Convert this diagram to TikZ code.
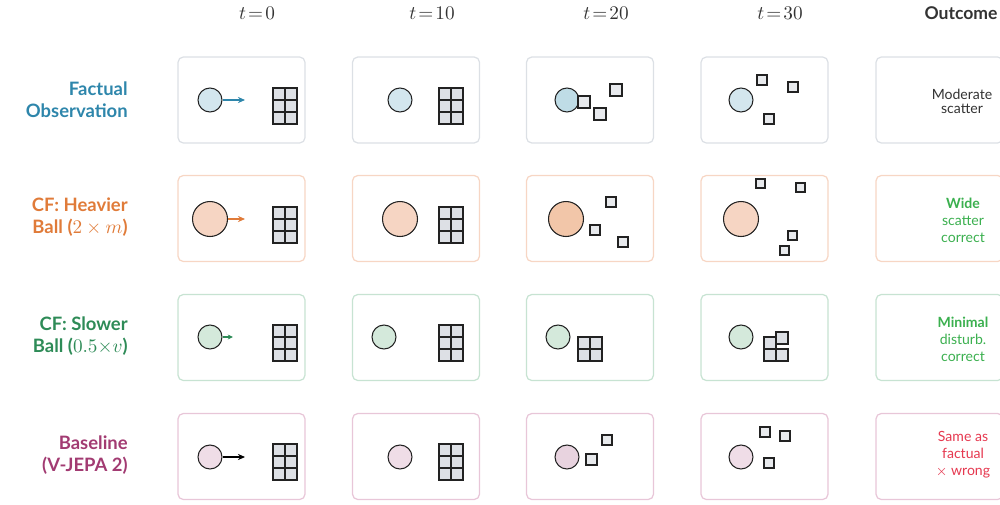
\documentclass[tikz,border=0pt]{standalone}
\usepackage{fontspec}
\setmainfont{Lato}
\usetikzlibrary{arrows.meta}
\definecolor{cfact}{HTML}{2E86AB}
\definecolor{cheavy}{HTML}{E07B39}
\definecolor{cslow}{HTML}{2E8B57}
\definecolor{cbase}{HTML}{A23B72}
\definecolor{cgood}{HTML}{3BB04F}
\definecolor{cbad}{HTML}{E63950}
\definecolor{chead}{HTML}{333333}
\definecolor{fblue}{HTML}{D3E6EE}
\definecolor{fblueD}{HTML}{BFDCE6}
\definecolor{forange}{HTML}{F6D5C3}
\definecolor{forangeD}{HTML}{F2C6A9}
\definecolor{fgreen}{HTML}{D4E9DB}
\definecolor{fpink}{HTML}{EFDDE7}
\definecolor{fpinkD}{HTML}{E8D3DF}
\definecolor{bdblue}{HTML}{DCE0E5}
\definecolor{bdorange}{HTML}{F7D6C4}
\definecolor{bdgreen}{HTML}{C7E3D2}
\definecolor{bdpink}{HTML}{E8C6D8}
\definecolor{brickfill}{HTML}{DDE0E5}
\definecolor{shardfill}{HTML}{E8EAED}
\definecolor{edge}{HTML}{222222}
\newcommand\wallgrid[2]{\foreach \i in {0,1}{\foreach \j in {0,1,2}{\draw[brickst] (#1+12*\i,#2+12*\j) rectangle ++(12,12);}}}
\newcommand\brick[2]{\draw[brickst] (#1,#2) rectangle ++(12,12);}
\newcommand\shard[3]{\draw[shardst] (#1,#2) rectangle ++(#3,#3);}
\begin{document}
\begin{tikzpicture}[x=0.02cm,y=-0.02cm,
  cellbox/.style={draw=#1,line width=0.7pt,rounded corners=3pt,minimum width=2.54cm,minimum height=1.72cm,inner sep=0pt,fill=white},
  ballS/.style={circle,draw=edge,line width=0.6pt,fill=#1,minimum size=0.48cm,inner sep=0pt},
  ballL/.style={circle,draw=edge,line width=0.6pt,fill=#1,minimum size=0.70cm,inner sep=0pt},
  brickst/.style={draw=edge,line width=0.7pt,fill=brickfill},
  shardst/.style={draw=edge,line width=0.7pt,fill=shardfill},
  push/.style={draw=#1,line width=0.8pt,-{Stealth[length=4pt,width=3.5pt]}},
  rowlab/.style={anchor=east,align=right,inner sep=0pt,font=\fontsize{10.5}{12.5}\selectfont\bfseries,text=#1},
  outlab/.style={align=center,font=\fontsize{8}{9.7}\selectfont,text=#1},
  head/.style={font=\fontsize{10.5}{12}\selectfont,text=chead}]
\useasboundingbox (0,0) rectangle (1000,504);
\clip (0,0) rectangle (1000,504);
% headers
\node[head] (h0) at (257,13) {$t\!=\!0$};
\node[head] (h1) at (432,13) {$t\!=\!10$};
\node[head] (h2) at (606,13) {$t\!=\!20$};
\node[head] (h3) at (780,13) {$t\!=\!30$};
\node[head,font=\fontsize{10}{12}\selectfont\bfseries] (h4) at (961,13) {Outcome};
% row labels
\node[rowlab=cfact] (l1) at (128,100) {Factual\\Observation};
\node[rowlab=cheavy] (l2) at (128,217) {CF: Heavier\\Ball ($2\times m$)};
\node[rowlab=cslow] (l3) at (128,336) {CF: Slower\\Ball ($0.5{\times}v$)};
\node[rowlab=cbase] (l4) at (128,455) {Baseline\\(V-JEPA 2)};
% boxes
\foreach \r/\y/\c in {1/100/bdblue,2/218.5/bdorange,3/337.5/bdgreen,4/456.5/bdpink}{
  \foreach \k/\x in {1/241.5,2/416,3/590,4/764.5,5/939.5}{
    \node[cellbox=\c] (box\r\k) at (\x,\y) {};
  }
}
% row 1
\node[ballS=fblue] (b11) at (210,100) {};
\coordinate (a11) at (245,100);
\draw[push=cfact] (b11.east) -- (a11);
\wallgrid{273}{88}
\node[ballS=fblue] (b12) at (400,100) {};
\wallgrid{439}{88}
\node[ballS=fblueD] (b13) at (567,100) {};
\shard{578}{96}{12}\shard{594}{108}{12}\shard{610}{84}{12}
\node[ballS=fblue] (b14) at (741,100) {};
\shard{757}{75}{10}\shard{788}{82}{10}\shard{764}{114}{10}
\node[outlab=chead,font=\fontsize{8}{7.8}\selectfont] (o1) at (962,101.5) {Moderate\\scatter};
% row 2
\node[ballL=forange] (b21) at (210,219) {};
\coordinate (a21) at (245,219);
\draw[push=cheavy] (b21.east) -- (a21);
\wallgrid{273}{207}
\node[ballL=forange] (b22) at (400,219) {};
\wallgrid{439}{207}
\node[ballL=forangeD] (b23) at (566,219) {};
\shard{606}{197}{10}\shard{590}{225}{10}\shard{618}{237}{10}
\node[ballL=forange] (b24) at (741,219) {};
\shard{756}{179}{9}\shard{796}{183}{9}\shard{788}{231}{9}\shard{780}{246}{9}
\node[outlab=cgood] (o2) at (963,220) {\textbf{Wide}\\scatter\\correct};
% row 3
\node[ballS=fgreen] (b31) at (210,337) {};
\coordinate (a31) at (233,337);
\draw[push=cslow,-{Stealth[length=3pt,width=2.8pt]}] (b31.east) -- (a31);
\wallgrid{273}{325}
\node[ballS=fgreen] (b32) at (384,337) {};
\wallgrid{439}{325}
\node[ballS=fgreen] (b33) at (558,337) {};
\brick{578}{337}\brick{590}{337}\brick{578}{349}\brick{590}{349}
\node[ballS=fgreen] (b34) at (741,337) {};
\brick{764}{337}\brick{764}{349}\brick{776}{349}\brick{776}{332}
\node[outlab=cgood] (o3) at (963,339) {\textbf{Minimal}\\disturb.\\correct};
% row 4
\node[ballS=fpink] (b41) at (210,457) {};
\coordinate (a41) at (245,457);
\draw[push=black] (b41.east) -- (a41);
\wallgrid{273}{444}
\node[ballS=fpink] (b42) at (400,457) {};
\wallgrid{439}{444}
\node[ballS=fpinkD] (b43) at (567,457) {};
\shard{586}{454}{11}\shard{602}{435}{10}
\node[ballS=fpink] (b44) at (741,457) {};
\shard{760}{427}{10}\shard{780}{431}{10}\shard{764}{458}{10}
\node[outlab=cbad] (o4) at (963,455) {Same as\\factual\\$\times$ wrong};
\end{tikzpicture}
\end{document}
